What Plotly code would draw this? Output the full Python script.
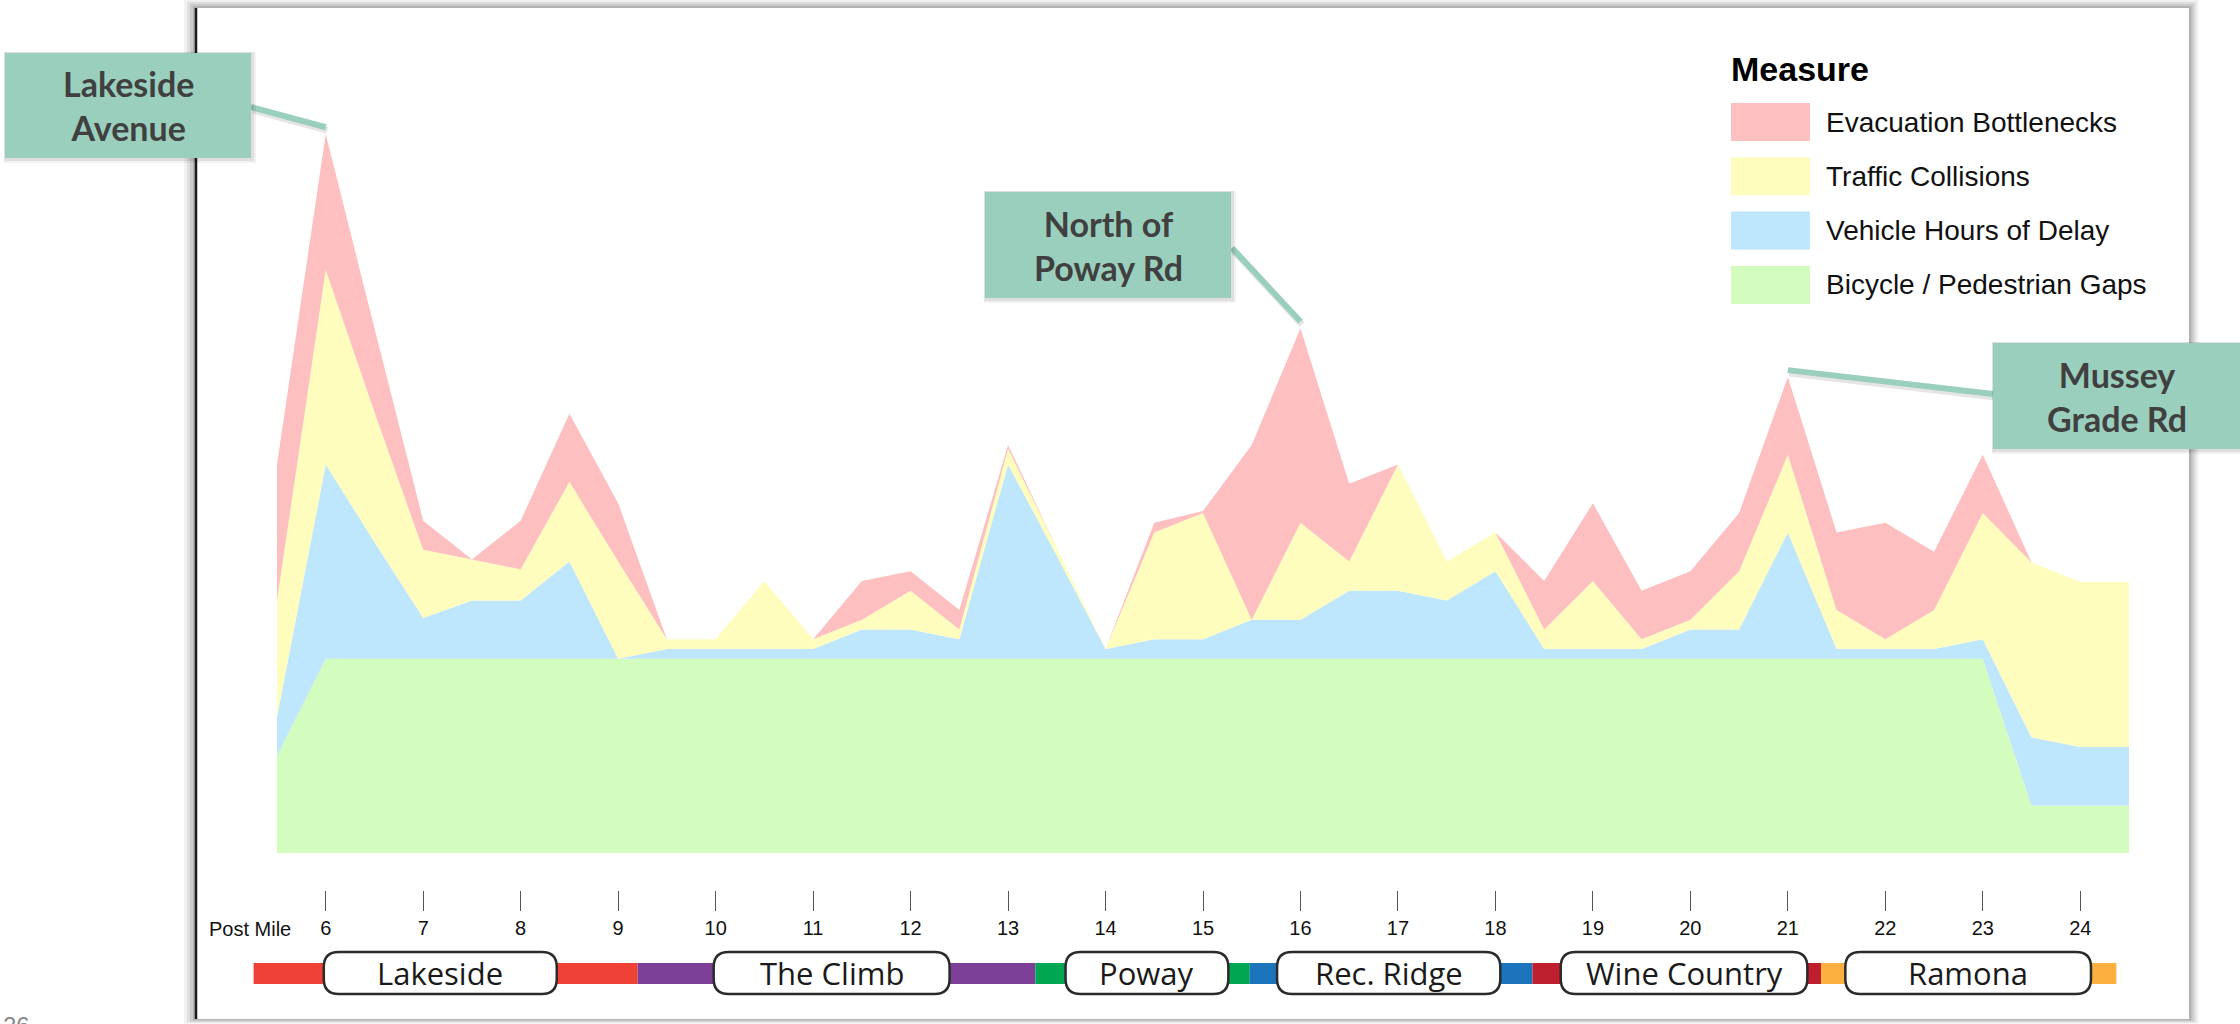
import plotly.graph_objects as go

# ---------------------------------------------------------------------------
# Data (scores are relative, no y axis shown)
# ---------------------------------------------------------------------------
post_miles = [5.5, 6, 6.5, 7, 7.5, 8, 8.5, 9, 9.5, 10, 10.5, 11, 11.5, 12, 12.5,
              13, 13.5, 14, 14.5, 15, 15.5, 16, 16.5, 17, 17.5, 18, 18.5, 19,
              19.5, 20, 20.5, 21, 21.5, 22, 22.5, 23, 23.5, 24, 24.5]

bike_ped_gaps = [5.0, 10, 10, 10, 10, 10, 10, 10, 10, 10, 10, 10, 10, 10, 10,
                 10, 10, 10, 10, 10, 10, 10, 10, 10, 10, 10, 10, 10,
                 10, 10, 10, 10, 10, 10, 10, 10, 2.45, 2.45, 2.45]
vehicle_delay = [2.0, 10.0, 6.0, 2.1, 3.0, 3.0, 5.0, 0.0, 0.5, 0.5, 0.5, 0.5, 1.5, 1.5, 1.0,
                 10.0, 5.3, 0.5, 1.0, 1.0, 2.0, 2.0, 3.5, 3.5, 3.0, 4.5, 0.5, 0.5,
                 0.5, 1.5, 1.5, 6.5, 0.5, 0.5, 0.5, 1.0, 3.5, 3.0, 3.0]
traffic_collisions = [6.0, 10.0, 6.7, 3.5, 2.1, 1.6, 4.1, 5.0, 0.5, 0.5, 3.5, 0.5, 0.5, 2.0, 0.5,
                      0.8, 0.4, 0.0, 5.5, 6.5, 0.0, 5.0, 1.5, 6.5, 2.0, 2.0, 1.0, 3.5,
                      0.5, 0.5, 3.0, 4.0, 2.0, 0.5, 2.0, 6.5, 9.0, 8.5, 8.5]
evac_bottlenecks = [7.0, 7.0, 4.3, 1.5, 0.0, 2.5, 3.5, 3.0, 0.0, 0.0, 0.0, 0.0, 2.0, 1.0, 1.0,
                    0.2, 0.0, 0.0, 0.5, 0.1, 9.0, 10.0, 4.0, 0.0, 0.0, 0.0, 2.5, 4.0,
                    2.5, 2.5, 3.0, 4.0, 4.0, 6.0, 3.0, 3.0, 0.0, 0.0, 0.0]

tick_miles = [6, 7, 8, 9, 10, 11, 12, 13, 14, 15, 16, 17, 18, 19, 20, 21, 22, 23, 24]

region_names = ["Lakeside", "The Climb", "Poway", "Rec. Ridge", "Wine Country", "Ramona"]
region_spans = [(5.26, 9.2), (9.2, 13.28), (13.28, 15.48), (15.48, 18.38), (18.38, 21.34), (21.34, 24.37)]
region_label_spans = [(5.98, 8.37), (9.98, 12.40), (13.59, 15.26), (15.76, 18.05), (18.67, 21.20), (21.59, 24.11)]
region_colors = ["#EF4136", "#7E3F98", "#00A651", "#1C75BC", "#BE1E2D", "#FBB040"]

callout_labels = ["Lakeside<br>Avenue", "North of<br>Poway Rd", "Mussey<br>Grade Rd"]
callout_miles = [6, 16, 21]

# stack order: bottom -> top
MEASURES = [
    ("Bicycle / Pedestrian Gaps", bike_ped_gaps, "rgb(210,253,190)"),
    ("Vehicle Hours of Delay", vehicle_delay, "rgb(190,230,253)"),
    ("Traffic Collisions", traffic_collisions, "rgb(255,253,190)"),
    ("Evacuation Bottlenecks", evac_bottlenecks, "rgb(253,191,191)"),
]

# ---------------------------------------------------------------------------
# Page geometry (pixels)
# ---------------------------------------------------------------------------
PAGE_W, PAGE_H = 2240, 1024
M_L, M_R, M_T, M_B = 277, 111, 40, 20
PLOT_W = PAGE_W - M_L - M_R
PAPER_H = PAGE_H - M_T - M_B
BASE_PX = 853  # y pixel of the zero line
X_RANGE = [5.5, 24.5]
Y_MAX = 41.84

TEAL = "#9BCFBD"
TEAL_TEXT = "#404040"


def px_x(px):
    return (px - M_L) / PLOT_W


def px_y(py):
    return (PAGE_H - M_B - py) / PAPER_H


Y_DOM0 = px_y(BASE_PX)


def mile_x(m):
    """Post mile -> paper x, same mapping as the x axis."""
    return (m - X_RANGE[0]) / (X_RANGE[1] - X_RANGE[0])


def score_y(v):
    """Stacked score -> paper y, same mapping as the y axis."""
    return Y_DOM0 + v / Y_MAX * (1 - Y_DOM0)


fig = go.Figure()

for name, vals, color in MEASURES:
    fig.add_trace(go.Scatter(
        x=post_miles, y=vals, name=name,
        stackgroup="one", mode="none",
        fillcolor=color,
        hovertemplate=name + ": %{y}<extra></extra>",
    ))

shapes = []
annotations = []

# ---- slide panel with soft shadow ------------------------------------------
P_L, P_T, P_R, P_B = 196, 8, 2189, 1019
for d, a in [(12, 0.05), (9, 0.07), (6, 0.09), (3, 0.12)]:
    shapes.append(dict(type="rect", xref="paper", yref="paper", layer="below",
                       x0=px_x(P_L - d), x1=px_x(P_R + d * 0.8),
                       y0=px_y(P_B + d * 0.4), y1=px_y(P_T - d * 0.7),
                       fillcolor=f"rgba(0,0,0,{a})", line=dict(width=0)))
shapes.append(dict(type="rect", xref="paper", yref="paper", layer="below",
                   x0=px_x(P_L), x1=px_x(P_R), y0=px_y(P_B), y1=px_y(P_T),
                   fillcolor="white", line=dict(width=0)))
shapes.append(dict(type="line", xref="paper", yref="paper", layer="below",
                   x0=px_x(P_L), x1=px_x(P_L), y0=px_y(P_B), y1=px_y(P_T),
                   line=dict(color="#1a1a1a", width=2.5)))

# ---- custom legend ----------------------------------------------------------
annotations.append(dict(xref="paper", yref="paper", x=px_x(1729), y=px_y(69),
                        xanchor="left", yanchor="middle", showarrow=False,
                        text="<b>Measure</b>",
                        font=dict(family="Liberation Sans, Arial", size=34, color="#000")))
for i, (name, vals, color) in enumerate(reversed(MEASURES)):
    cy = 122 + i * 54.3
    shapes.append(dict(type="rect", xref="paper", yref="paper",
                       x0=px_x(1731), x1=px_x(1810), y0=px_y(cy + 19), y1=px_y(cy - 19),
                       fillcolor=color, line=dict(width=0)))
    annotations.append(dict(xref="paper", yref="paper", x=px_x(1824), y=px_y(cy),
                            xanchor="left", yanchor="middle", showarrow=False, text=name,
                            font=dict(family="Liberation Sans, Arial", size=28, color="#111")))

# ---- callouts ---------------------------------------------------------------
totals = [sum(v) for v in zip(*[m[1] for m in MEASURES])]
callout_boxes = [(5, 53, 251, 158), (985, 192, 1231, 298), (1993, 343, 2245, 449)]
callout_line_starts = [(251, 107), (1232, 248), (1993, 394)]
for label, mile, (bx0, by0, bx1, by1), (lx, ly) in zip(callout_labels, callout_miles,
                                                      callout_boxes, callout_line_starts):
    peak = totals[post_miles.index(mile)]
    # connector line (soft shadow + line)
    shapes.append(dict(type="line", xref="paper", yref="paper",
                       x0=px_x(lx + 2), y0=px_y(ly + 3),
                       x1=mile_x(mile) + 1.5 / PLOT_W, y1=score_y(peak + 0.2),
                       line=dict(color="rgba(0,0,0,0.10)", width=7)))
    shapes.append(dict(type="line", xref="paper", yref="paper",
                       x0=px_x(lx), y0=px_y(ly), x1=mile_x(mile), y1=score_y(peak + 0.35),
                       line=dict(color=TEAL, width=6)))
    for d, a in [(5, 0.05), (3, 0.08)]:
        shapes.append(dict(type="rect", xref="paper", yref="paper",
                           x0=px_x(bx0 - 1), x1=px_x(bx1 + d), y0=px_y(by1 + d), y1=px_y(by0 - 1),
                           fillcolor=f"rgba(0,0,0,{a})", line=dict(width=0)))
    shapes.append(dict(type="rect", xref="paper", yref="paper",
                       x0=px_x(bx0), x1=px_x(bx1), y0=px_y(by1), y1=px_y(by0),
                       fillcolor=TEAL, line=dict(width=0)))
    annotations.append(dict(xref="paper", yref="paper",
                            x=px_x((bx0 + min(bx1, 2240)) / 2), y=px_y((by0 + by1) / 2),
                            xanchor="center", yanchor="middle", showarrow=False, text=label,
                            font=dict(family="Lato", size=34, color=TEAL_TEXT, weight="bold")))

# ---- post mile row and region bar ------------------------------------------
annotations.append(dict(xref="paper", yref="paper", x=px_x(250), y=px_y(929),
                        xanchor="center", yanchor="middle", showarrow=False, text="Post Mile",
                        font=dict(family="Liberation Sans, Arial", size=20, color="#111")))

BAR_T, BAR_B = 963, 984
for (s0, s1), color in zip(region_spans, region_colors):
    shapes.append(dict(type="rect", xref="paper", yref="paper",
                       x0=mile_x(s0), x1=mile_x(s1), y0=px_y(BAR_B), y1=px_y(BAR_T),
                       fillcolor=color, line=dict(width=0)))

PILL_T, PILL_B, R_PX = 952, 994, 15
rx = R_PX / PLOT_W
ry = R_PX / PAPER_H
for name, (m0, m1) in zip(region_names, region_label_spans):
    a, b = mile_x(m0), mile_x(m1)
    y0, y1 = px_y(PILL_B), px_y(PILL_T)
    path = (f"M {a + rx},{y0} L {b - rx},{y0} Q {b},{y0} {b},{y0 + ry} "
            f"L {b},{y1 - ry} Q {b},{y1} {b - rx},{y1} L {a + rx},{y1} "
            f"Q {a},{y1} {a},{y1 - ry} L {a},{y0 + ry} Q {a},{y0} {a + rx},{y0} Z")
    shapes.append(dict(type="path", xref="paper", yref="paper", path=path,
                       fillcolor="white", line=dict(color="#2b2b2b", width=2.5)))
    annotations.append(dict(xref="paper", yref="paper", x=(a + b) / 2, y=px_y(973),
                            xanchor="center", yanchor="middle", showarrow=False, text=name,
                            font=dict(family="Open Sans", size=31, color="#1a1a1a")))

# page number peeking in at the bottom-left corner (cut off as in the source slide)
annotations.append(dict(xref="paper", yref="paper", x=px_x(16), y=px_y(1010),
                        xanchor="center", yanchor="top", showarrow=False, text="26",
                        font=dict(family="Liberation Sans, Arial", size=24, color="#888")))

fig.update_layout(
    width=PAGE_W, height=PAGE_H,
    margin=dict(l=M_L, r=M_R, t=M_T, b=M_B, autoexpand=False),
    paper_bgcolor="white",
    plot_bgcolor="rgba(0,0,0,0)",
    showlegend=False,
    shapes=shapes,
    annotations=annotations,
    xaxis=dict(
        range=X_RANGE, domain=[0, 1],
        anchor="free", position=px_y(890),
        tickmode="array", tickvals=tick_miles, ticktext=[str(t) for t in tick_miles],
        ticks="outside", ticklen=20, tickwidth=1.2, tickcolor="#555",
        showline=False, showgrid=False, zeroline=False,
        tickfont=dict(family="Liberation Sans, Arial", size=20, color="#111"),
    ),
    yaxis=dict(
        range=[0, Y_MAX], domain=[Y_DOM0, 1],
        visible=False, showgrid=False, zeroline=False,
    ),
)

fig.write_html(
    "out.html",
    config={"displayModeBar": False},
    post_script="document.body.style.margin='0';document.body.style.overflow='hidden';",
)
